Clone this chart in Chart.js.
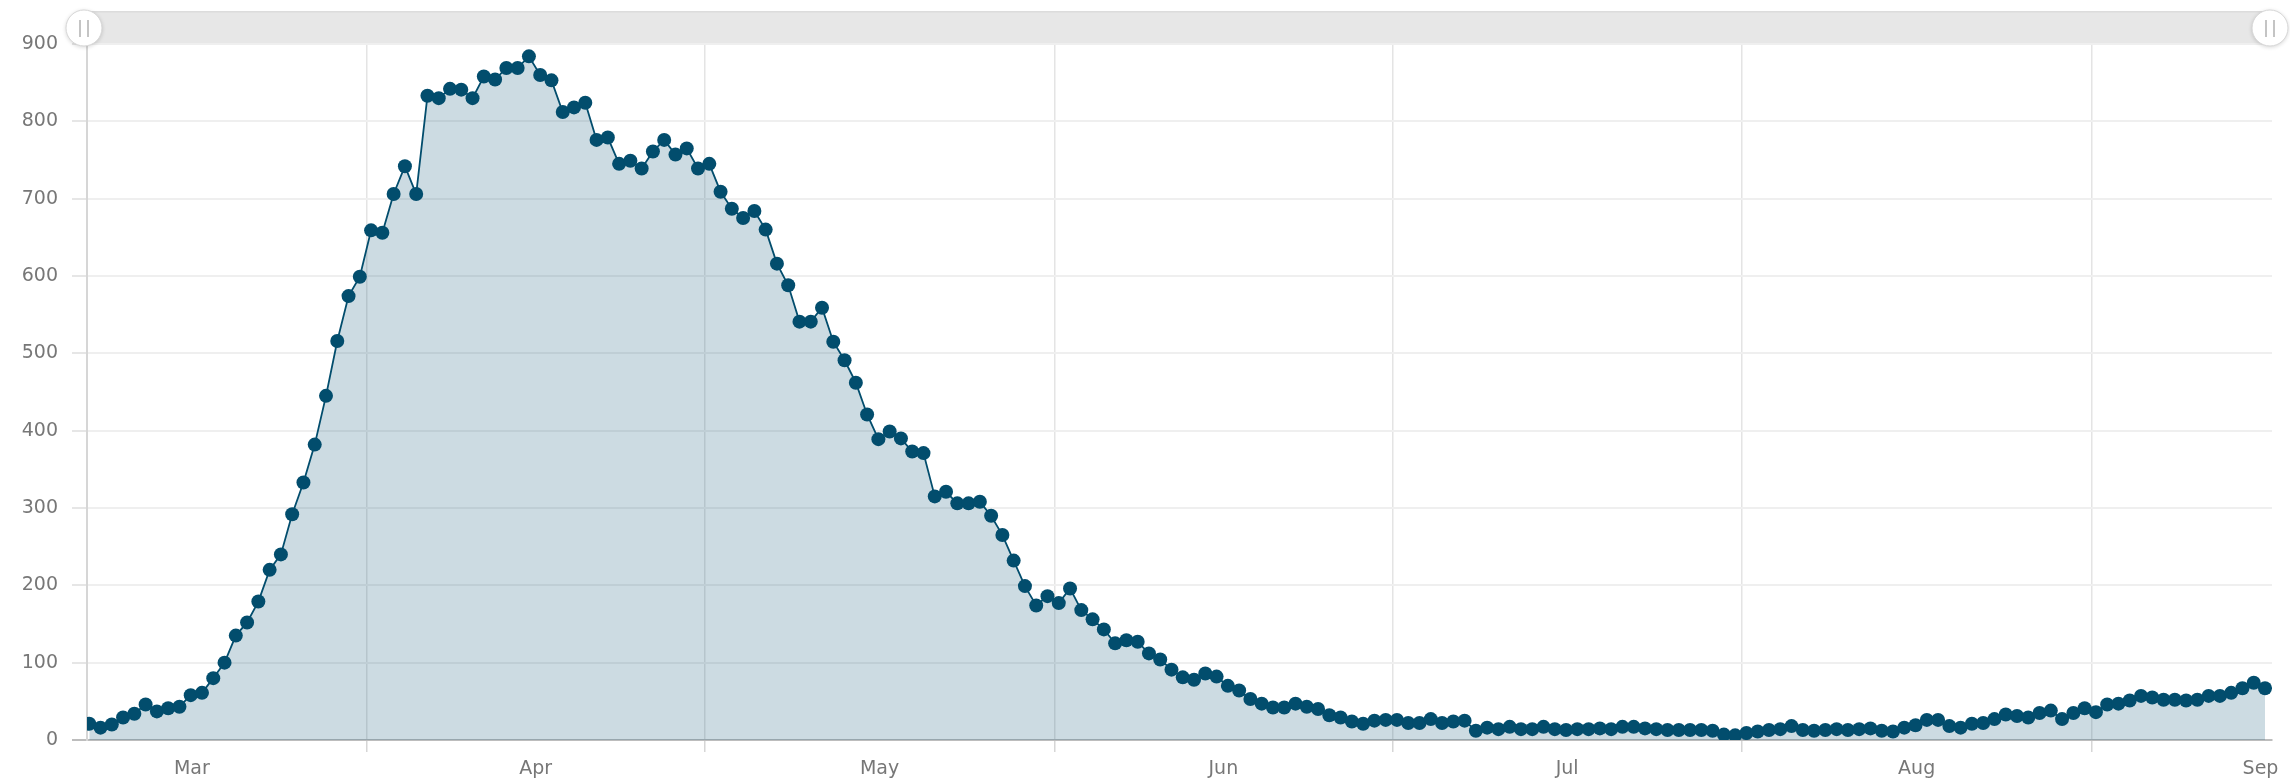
<!DOCTYPE html>
<html>
<head>
<meta charset="utf-8">
<script src="https://cdn.jsdelivr.net/npm/chart.js@4.4.0/dist/chart.umd.min.js"></script>
<style>
html,body{margin:0;padding:0;background:#ffffff;}
#wrap{width:2290px;height:784px;position:relative;}
canvas{display:block;}
</style>
</head>
<body>
<div id="wrap"><canvas id="c" width="2290" height="784"></canvas></div>
<script>
// ---- data (daily values, first day = startDate) ----
const startDate = '2020-03-07';
const values = [
  21,16,20,29,34,46,37,41,43,58,
  61,80,100,135,152,179,220,240,292,333,
  382,445,516,574,599,659,656,706,742,706,
  833,830,842,841,830,858,854,869,869,884,
  860,853,812,818,824,776,779,745,749,739,
  761,776,757,765,739,745,709,687,675,684,
  660,616,588,541,541,559,515,491,462,421,
  389,399,390,373,371,315,321,306,306,308,
  290,265,232,199,174,186,177,196,168,156,
  143,125,129,127,112,104,91,81,78,86,
  82,70,64,53,47,42,42,47,43,40,
  32,29,24,21,25,26,26,22,22,27,
  22,24,25,12,16,14,17,14,14,17,
  14,13,14,14,15,14,17,17,15,14,
  13,13,13,13,12,7,6,9,11,13,
  14,18,13,12,13,14,13,14,15,12,
  11,16,19,26,26,18,16,21,22,27,
  33,31,29,35,38,27,35,41,36,46,
  47,51,57,55,52,52,51,52,57,57,
  61,67,74,67
];
const monthLabels = ['Mar','Apr','May','Jun','Jul','Aug','Sep'];
const monthStarts = ['2020-03-01','2020-04-01','2020-05-01','2020-06-01','2020-07-01','2020-08-01','2020-09-01','2020-10-01'];
const yTickValues = [0,100,200,300,400,500,600,700,800,900];

// ---- helpers ----
function dayIndex(s){
  const a = s.split('-').map(Number), b = startDate.split('-').map(Number);
  return Math.round((Date.UTC(a[0],a[1]-1,a[2]) - Date.UTC(b[0],b[1]-1,b[2]))/86400000);
}
const xMin = -0.2, xMax = values.length - 1 + 0.62;
const gridShift = -0.4;
const xTickDefs = [];
for (let i = 0; i < monthLabels.length; i++) {
  const s = dayIndex(monthStarts[i]) + gridShift;
  const e = dayIndex(monthStarts[i+1]) + gridShift;
  if (s >= xMin && s <= xMax) xTickDefs.push({value: s, label: '', grid: true});
  const c = (s + e) / 2;
  xTickDefs.push({value: Math.min(c, xMax), label: monthLabels[i], grid: false});
}
xTickDefs.sort((p,q)=>p.value-q.value);

const points = values.map((v,i)=>({x:i, y:v}));
const dark = '#024d6d';
const FONT = '"DejaVu Sans", Verdana, sans-serif';

const scrollbar = {
  id: 'scrollbar',
  afterDraw(chart){
    const ctx = chart.ctx, a = chart.chartArea;
    const x0 = a.left - 3, x1 = a.right - 2, y0 = 11, y1 = 43;
    ctx.save();
    ctx.fillStyle = '#e7e7e7';
    ctx.fillRect(x0, y0, x1 - x0, y1 - y0);
    ctx.fillStyle = '#dcdcdc';
    ctx.fillRect(x0, y0, x1 - x0, 1.5);
    [x0, x1].forEach(cx => {
      const cy = 28;
      ctx.save();
      ctx.shadowColor = 'rgba(0,0,0,0.18)';
      ctx.shadowBlur = 4;
      ctx.shadowOffsetY = 1;
      ctx.beginPath();
      ctx.arc(cx, cy, 18, 0, Math.PI*2);
      ctx.fillStyle = '#ffffff';
      ctx.fill();
      ctx.restore();
      ctx.beginPath();
      ctx.arc(cx, cy, 18, 0, Math.PI*2);
      ctx.strokeStyle = '#d6d6d6';
      ctx.lineWidth = 1;
      ctx.stroke();
      ctx.strokeStyle = '#c4c4c4';
      ctx.lineWidth = 2;
      ctx.beginPath();
      ctx.moveTo(cx - 4, cy - 8); ctx.lineTo(cx - 4, cy + 9);
      ctx.moveTo(cx + 4, cy - 8); ctx.lineTo(cx + 4, cy + 9);
      ctx.stroke();
    });
    ctx.restore();
  }
};

new Chart(document.getElementById('c'), {
  type: 'line',
  data: {
    datasets: [{
      data: points,
      borderColor: dark,
      borderWidth: 1.8,
      backgroundColor: 'rgba(2,77,109,0.2)',
      fill: 'origin',
      pointRadius: 7,
      pointBackgroundColor: dark,
      pointBorderWidth: 0,
      pointHoverRadius: 7,
      tension: 0
    }]
  },
  options: {
    responsive: false,
    animation: false,
    events: [],
    layout: { padding: { top: 44, right: 18, left: 0, bottom: 0 } },
    plugins: { legend: { display: false }, tooltip: { enabled: false } },
    scales: {
      x: {
        type: 'linear',
        min: xMin,
        max: xMax,
        afterBuildTicks: (s) => { s.ticks = xTickDefs.map(t => ({value: t.value})); },
        afterFit: (s) => { s.height = 44; },
        ticks: {
          autoSkip: false,
          maxRotation: 0,
          padding: 6,
          color: '#777777',
          font: { family: FONT, size: 19 },
          callback: (v, i) => xTickDefs[i] ? xTickDefs[i].label : ''
        },
        grid: {
          drawTicks: true,
          tickLength: 12,
          lineWidth: 1.5,
          color: (c) => (xTickDefs[c.index] && xTickDefs[c.index].grid) ? '#e4e4e4' : 'rgba(0,0,0,0)',
          tickColor: (c) => (xTickDefs[c.index] && xTickDefs[c.index].grid) ? '#d6d6d6' : 'rgba(0,0,0,0)'
        },
        border: { display: true, color: '#bdbdbd', width: 2 }
      },
      y: {
        type: 'linear',
        min: 0,
        max: 900,
        afterBuildTicks: (s) => { s.ticks = yTickValues.map(v => ({value: v})); },
        afterFit: (s) => { s.width = 87; },
        ticks: {
          padding: 14,
          color: '#777777',
          font: { family: FONT, size: 19 }
        },
        grid: {
          drawTicks: true,
          tickLength: 15,
          lineWidth: 2,
          color: (c) => (c.tick && c.tick.value === 0) ? '#bdbdbd' : '#efefef',
          tickColor: (c) => (c.tick && c.tick.value === 0) ? '#bdbdbd' : '#e6e6e6'
        },
        border: { display: true, color: '#d6d6d6', width: 2 }
      }
    }
  },
  plugins: [scrollbar]
});
</script>
</body>
</html>
